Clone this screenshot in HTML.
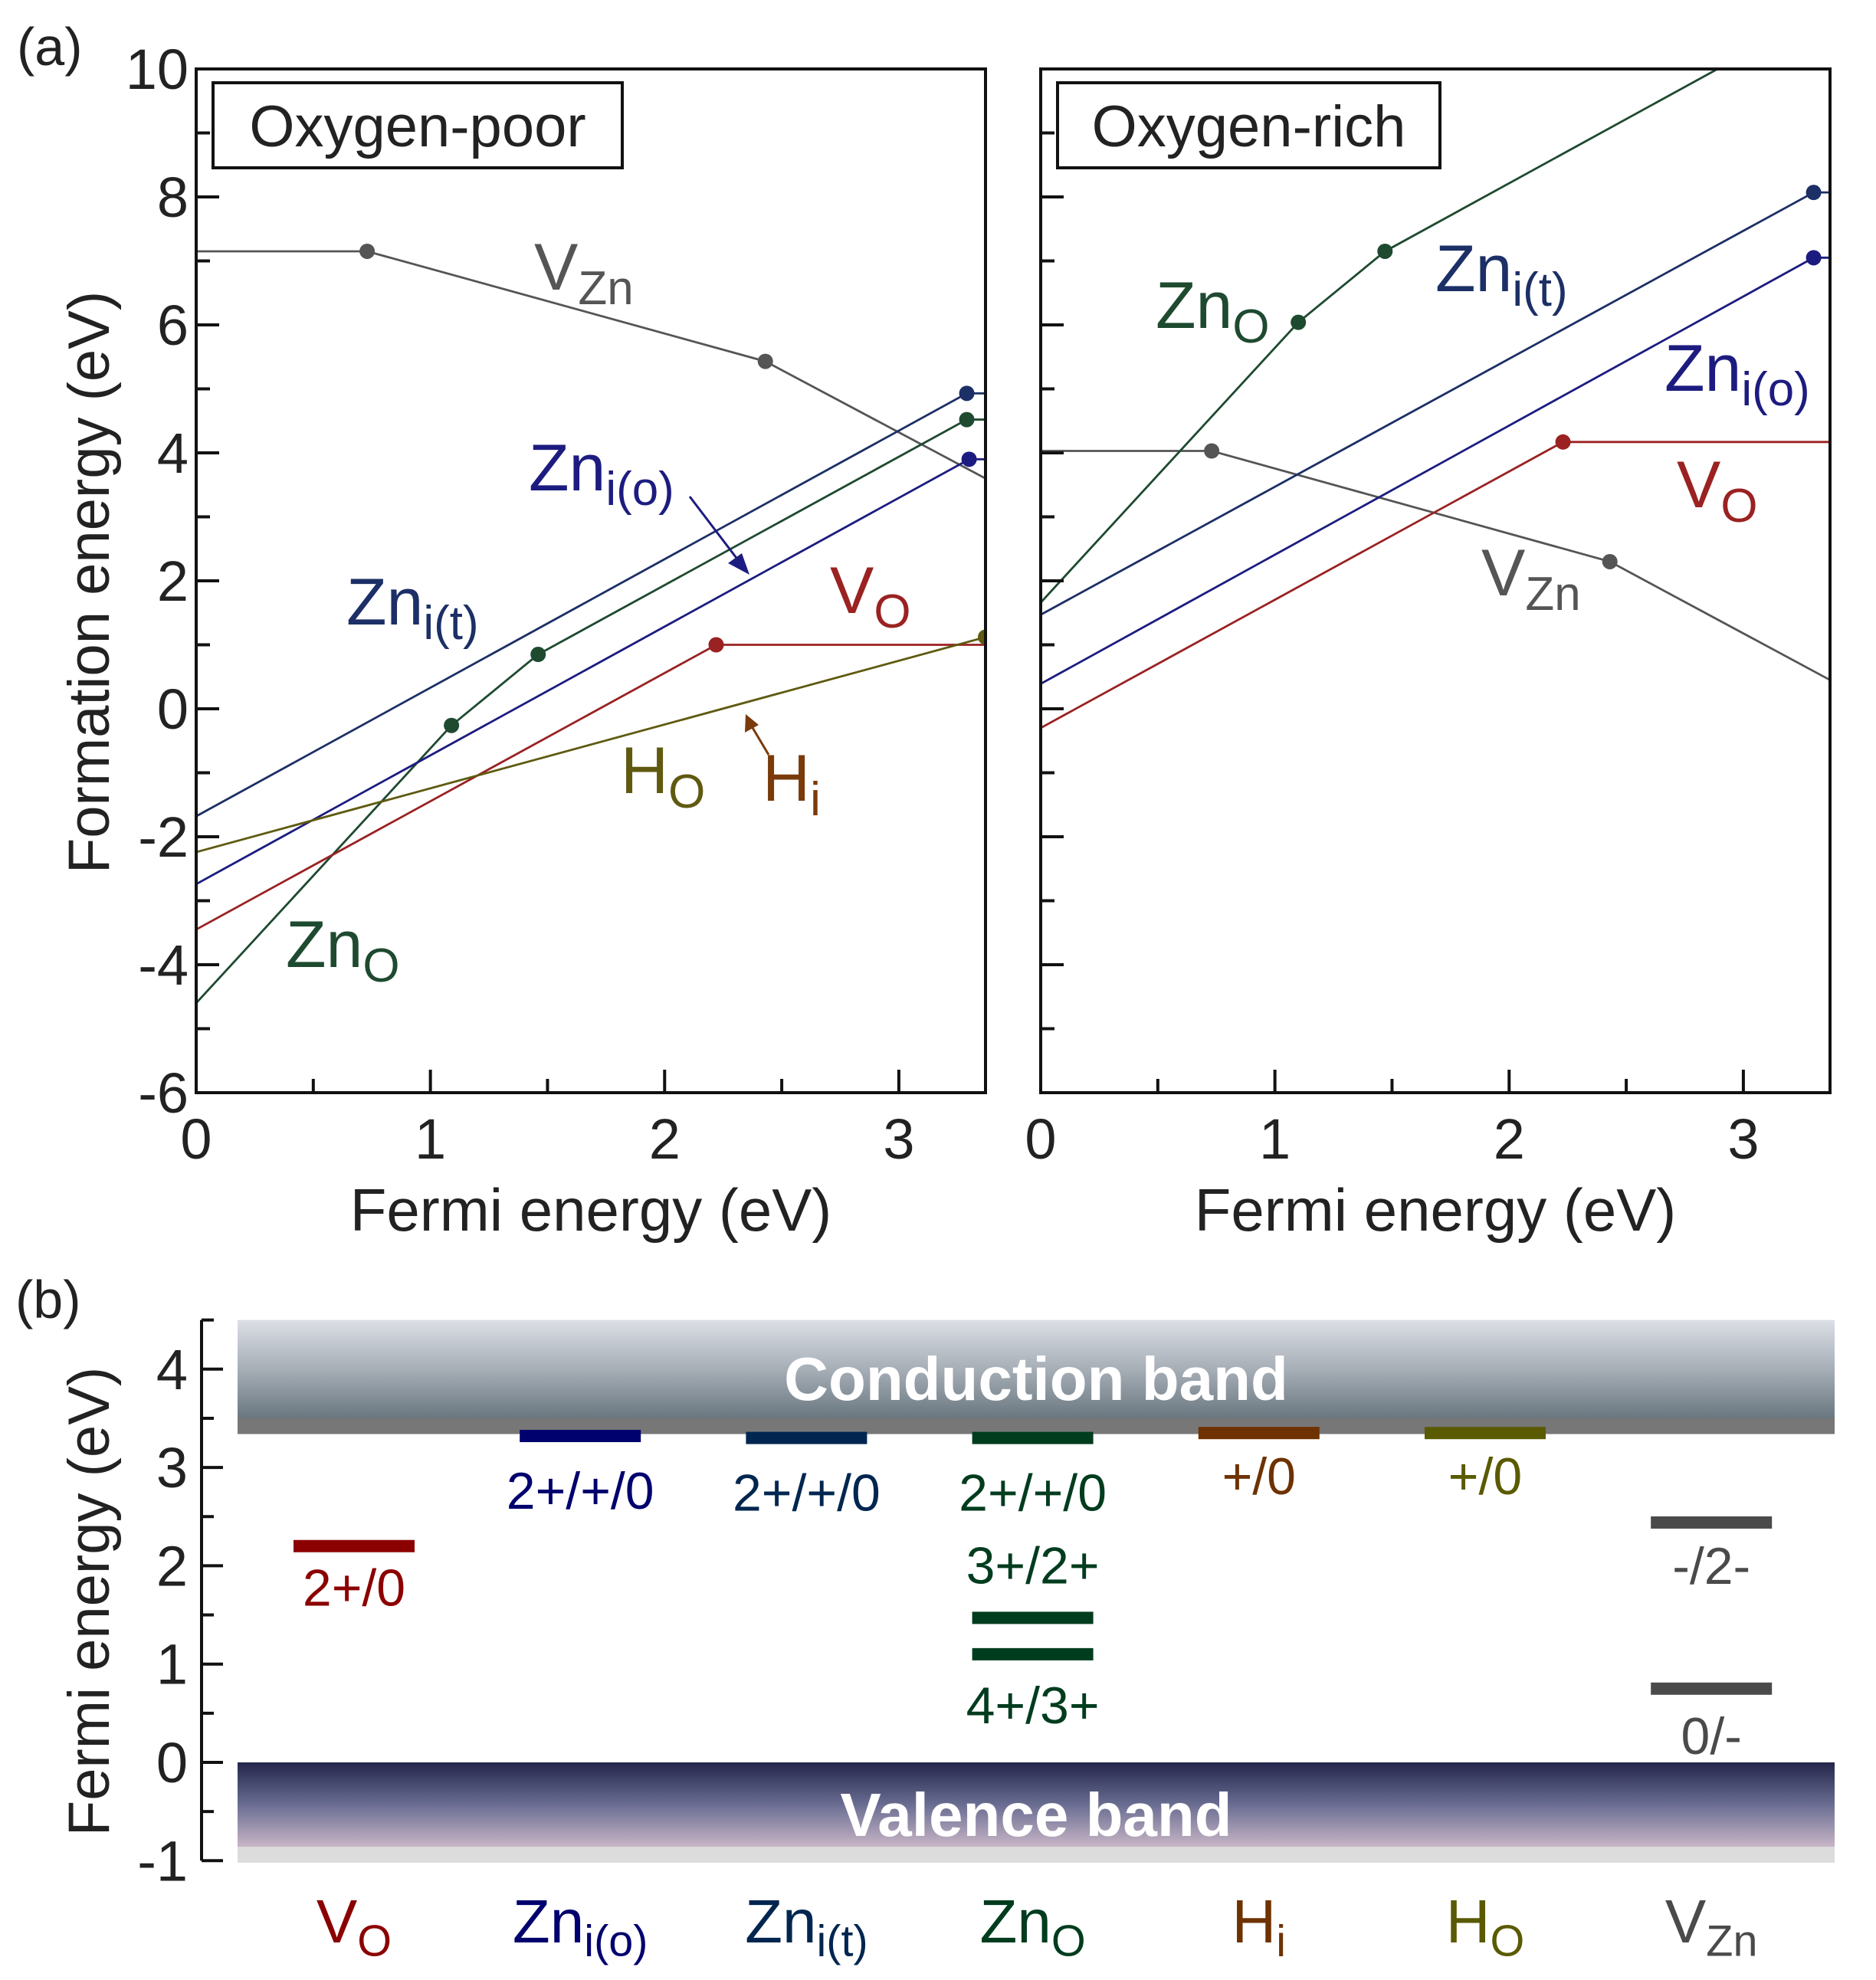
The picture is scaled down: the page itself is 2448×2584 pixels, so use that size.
<!DOCTYPE html>
<html><head><meta charset="utf-8"><style>
html,body{margin:0;padding:0;background:#fff;}
svg{display:block;font-family:"Liberation Sans",sans-serif;}
</style></head><body>
<svg id="fig" width="2448" height="2584" viewBox="0 0 2448 2584" xmlns="http://www.w3.org/2000/svg">
<defs>
<linearGradient id="cbg" x1="0" y1="0" x2="0" y2="1">
<stop offset="0" stop-color="#dcdfe6"/><stop offset="0.45" stop-color="#a4acb4"/><stop offset="1" stop-color="#56656e"/></linearGradient>
<linearGradient id="vbg" x1="0" y1="0" x2="0" y2="1">
<stop offset="0" stop-color="#23264a"/><stop offset="0.5" stop-color="#6a6d92"/><stop offset="1" stop-color="#c8b6c6"/></linearGradient>
</defs>
<g id="root"></g>
</svg>
<script>
// ---------- data: panel (a) ----------
const xTicks=[0,1,2,3];
const yTickLabels=[10,8,6,4,2,0,-2,-4,-6];
const seriesNames=["VZn","Zni(t)","ZnO","Zni(o)","VO","H"];
const seriesColors=["#555555","#1c2f66","#1e4a30","#1c1c80","#9a2222","#5f5a10"];
const poorVZn=[[0,7.15],[0.73,7.15],[2.43,5.43],[3.37,3.6]];
const poorZniT=[[0,-1.68],[3.29,4.93],[3.37,4.93]];
const poorZnO=[[0,-4.6],[1.09,-0.26],[1.46,0.85],[3.29,4.52],[3.37,4.52]];
const poorZniO=[[0,-2.74],[3.3,3.9],[3.37,3.9]];
const poorVO=[[0,-3.45],[2.22,1.0],[3.37,1.0]];
const poorH=[[0,-2.24],[3.37,1.12]];
const poorDots=[[0,1],[0,2],[1,1],[2,1],[2,2],[2,3],[3,1],[4,1],[5,1]];
const richVZn=[[0,4.03],[0.73,4.03],[2.43,2.3],[3.37,0.45]];
const richZniT=[[0,1.47],[3.3,8.07],[3.37,8.07]];
const richZnO=[[0,1.66],[1.1,6.04],[1.47,7.15],[2.89,10]];
const richZniO=[[0,0.39],[3.3,7.05],[3.37,7.05]];
const richVO=[[0,-0.3],[2.23,4.17],[3.37,4.17]];
const richDots=[[0,1],[0,2],[1,1],[2,1],[2,2],[3,1],[4,1]];
// ---------- data: panel (b) ----------
const bCats=["V","Zn","Zn","Zn","H","H","V"];
const bSubs=["O","i(o)","i(t)","O","i","O","Zn"];
const bColors=["#8b0000","#00006e","#002650","#003c1e","#6e3200","#5a5a00","#4a4a4a"];
const bTicks=[-1,0,1,2,3,4];
const bLevels=[[2.2],[3.32],[3.3],[3.3,1.47,1.1],[3.35],[3.35],[2.44,0.75]];
const bLabels=[["2+/0"],["2+/+/0"],["2+/+/0"],["2+/+/0","3+/2+","4+/3+"],["+/0"],["+/0"],["-/2-","0/-"]];
const bLabelDy=[[78],[95],[95],[95,-45,90],[80],[80],[80,85]];

const NS="http://www.w3.org/2000/svg";
const root=document.getElementById('root');
function mk(tag,attrs,parent){const e=document.createElementNS(NS,tag);for(const k in attrs)e.setAttribute(k,attrs[k]);(parent||root).appendChild(e);return e;}
function txt(x,y,s,size,fill,parent,anchor){const t=mk('text',{x:x,y:y,'font-size':size,fill:fill,'text-anchor':anchor||'middle'},parent);t.textContent=s;return t;}
function subLabel(x,y,main,sub,color,size,parent,name,anchor){
  const t=mk('text',{x:x,y:y,'font-size':size,fill:color,'text-anchor':anchor||'start'},parent);
  
  
  const a=document.createElementNS(NS,'tspan');a.textContent=main;t.appendChild(a);
  const b=document.createElementNS(NS,'tspan');b.setAttribute('font-size',size*0.72);b.setAttribute('dy',size*0.22);b.textContent=sub;t.appendChild(b);
  return t;
}

txt(22,85,"(a)",70,"#222",root,"start");
function panel(x0,x1,yTop,yBot,series,dots,showY,title,boxW,name){
  const g=mk('g',{});
  
  
  const xs=v=>x0+v*(x1-x0)/3.37;
  const ys=v=>yTop+(10-v)*(yBot-yTop)/16;
  const cp=mk('clipPath',{id:'cp'+name},g);mk('rect',{x:x0,y:yTop,width:x1-x0,height:yBot-yTop},cp);
  const lg=mk('g',{'clip-path':'url(#cp'+name+')'},g);
  series.forEach((s,i)=>{
    const p=mk('polyline',{points:s.map(q=>xs(q[0])+','+ys(q[1])).join(' '),fill:'none',stroke:seriesColors[i],'stroke-width':2.8},lg);
    
    
  });
  dots.forEach(d=>{const q=series[d[0]][d[1]];const c=mk('circle',{cx:xs(q[0]),cy:ys(q[1]),r:10,fill:seriesColors[d[0]]},lg);
    
    });
  const fr=mk('rect',{x:x0,y:yTop,width:x1-x0,height:yBot-yTop,fill:'none',stroke:'#111','stroke-width':4},g);
  
  
  for(let v=-6;v<=10;v++){const L=(v%2===0)?30:18;mk('line',{x1:x0,x2:x0+L,y1:ys(v),y2:ys(v),stroke:'#111','stroke-width':4},g);}
  for(let v=0.5;v<3.37;v+=0.5){const L=(Math.abs(v-Math.round(v))<0.01)?30:18;mk('line',{x1:xs(v),x2:xs(v),y1:yBot,y2:yBot-L,stroke:'#111','stroke-width':4},g);}
  xTicks.forEach(v=>{const t=txt(xs(v),yBot+86,String(v),74,"#222",g);});
  if(showY) yTickLabels.forEach(v=>{const t=txt(x0-10,ys(v)+26,String(v),74,"#222",g,"end");});
  const xt=txt((x0+x1)/2,yBot+180,"Fermi energy (eV)",78,"#222",g);
  
  const bx=mk('rect',{x:x0+22,y:yTop+18,width:boxW,height:111,fill:'#fff',stroke:'#111','stroke-width':4},g);
  
  txt(x0+22+boxW/2,yTop+101,title,76,"#222",g);
  return {xs,ys,g};
}
panel(256,1286,90,1426,[poorVZn,poorZniT,poorZnO,poorZniO,poorVO,poorH],poorDots,true,"Oxygen-poor",534,"panel-oxygen-poor");
panel(1358,2388,90,1426,[richVZn,richZniT,richZnO,richZniO,richVO],richDots,false,"Oxygen-rich",499,"panel-oxygen-rich");
const yt=txt(0,0,"Formation energy (eV)",76,"#222");
yt.setAttribute('transform','translate(142,760) rotate(-90)');

subLabel(697,378,"V","Zn","#555",86,root,'label-vzn-poor');
subLabel(690,640,"Zn","i(o)","#1c1c80",86,root,'label-zni-o-poor');
subLabel(452,815,"Zn","i(t)","#1c2f66",86,root,'label-zni-t-poor');
subLabel(1083,800,"V","O","#9a2222",86,root,'label-vo-poor');
subLabel(810,1035,"H","O","#5f5a10",86,root,'label-ho-poor');
subLabel(995,1045,"H","i","#7a3a0a",86,root,'label-hi-poor');
subLabel(373,1262,"Zn","O","#1e4a30",86,root,'label-zno-poor');
mk('line',{x1:900,y1:648,x2:970,y2:740,stroke:'#1c1c80','stroke-width':3});
mk('polygon',{points:'978,750 950,735 968,722',fill:'#1c1c80'});
mk('line',{x1:1003,y1:985,x2:978,y2:943,stroke:'#7a3a0a','stroke-width':3});
mk('polygon',{points:'973,932 990,946 972,956',fill:'#7a3a0a'});
subLabel(1508,428,"Zn","O","#1e4a30",86,root,'label-zno-rich');
subLabel(1873,380,"Zn","i(t)","#1c2f66",86,root,'label-zni-t-rich');
subLabel(2172,510,"Zn","i(o)","#1c1c80",86,root,'label-zni-o-rich');
subLabel(2188,662,"V","O","#9a2222",86,root,'label-vo-rich');
subLabel(1933,777,"V","Zn","#555",86,root,'label-vzn-rich');

txt(20,1720,"(b)",70,"#222",root,"start");
const bx0=310,bx1=2394;
const by=v=>2300-v*128.3;
const colX=i=>462+i*295.2;
const cb=mk('rect',{x:bx0,y:by(4.5),width:bx1-bx0,height:by(3.34)-by(4.5),fill:'url(#cbg)'});


mk('rect',{x:bx0,y:by(3.5),width:bx1-bx0,height:by(3.34)-by(3.5),fill:'#777'});
const cbt=txt((bx0+bx1)/2,1827,"Conduction band",80,"#fff");cbt.setAttribute('font-weight','bold');
const vb=mk('rect',{x:bx0,y:by(0),width:bx1-bx0,height:by(-0.86)-by(0),fill:'url(#vbg)'});


mk('rect',{x:bx0,y:by(-0.86),width:bx1-bx0,height:by(-1.02)-by(-0.86),fill:'#dcdcdc'});
const vbt=txt((bx0+bx1)/2,2396,"Valence band",80,"#fff");vbt.setAttribute('font-weight','bold');
mk('line',{x1:263,x2:263,y1:by(4.5),y2:by(-1),stroke:'#111','stroke-width':4});
for(let v=-1;v<=4.5;v+=0.5){const Lt=(Math.abs(v-Math.round(v))<0.01)?28:16;mk('line',{x1:263,x2:263+Lt,y1:by(v),y2:by(v),stroke:'#111','stroke-width':4});}
bTicks.forEach(v=>{const t=txt(245,by(v)+26,String(v),74,"#222",root,"end");});
const byt=txt(0,0,"Fermi energy (eV)",76,"#222");
byt.setAttribute('transform','translate(142,2090) rotate(-90)');

bCats.forEach((c,i)=>{
  const cx=colX(i);
  bLevels[i].forEach((lv,j)=>{
    const r=mk('rect',{x:cx-79,y:by(lv)-8,width:158,height:16,fill:bColors[i]});
    
    
    const t=txt(cx,by(lv)+bLabelDy[i][j],bLabels[i][j],68,bColors[i]);
    
  });
  subLabel(cx,2535,c,bSubs[i],bColors[i],80,root,'defect-category-label','middle');
});
</script>
</body></html>
